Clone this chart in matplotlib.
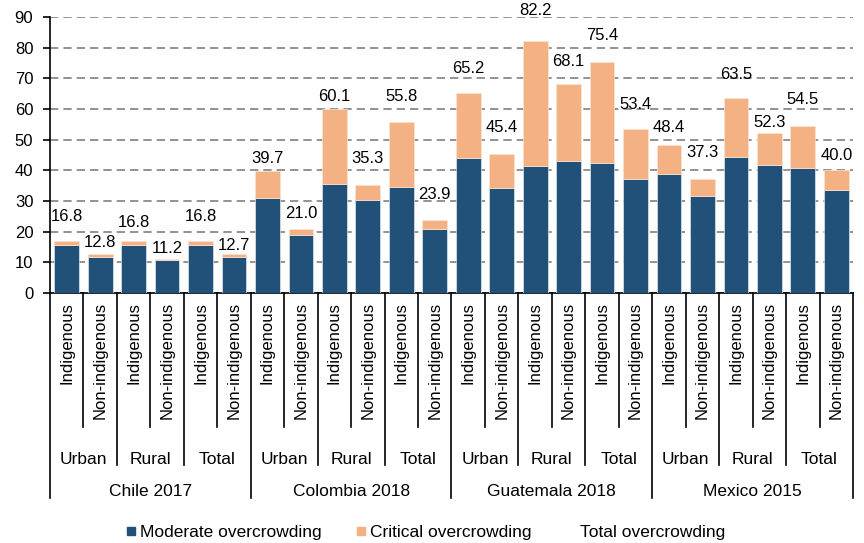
import matplotlib
matplotlib.use("Agg")
import matplotlib.pyplot as plt
from matplotlib.lines import Line2D
import matplotlib.transforms as mtransforms

plt.rcParams["font.family"] = ["Liberation Sans", "DejaVu Sans"]

countries = ["Chile 2017", "Colombia 2018", "Guatemala 2018", "Mexico 2015"]
areas = ["Urban", "Rural", "Total"]
groups = ["Indigenous", "Non-indigenous"]

total = [16.8, 12.8, 16.8, 11.2, 16.8, 12.7,
         39.7, 21.0, 60.1, 35.3, 55.8, 23.9,
         65.2, 45.4, 82.2, 68.1, 75.4, 53.4,
         48.4, 37.3, 63.5, 52.3, 54.5, 40.0]
moderate = [15.5, 11.9, 15.5, 10.7, 15.5, 11.8,
            31.0, 18.8, 35.7, 30.2, 34.6, 20.9,
            44.1, 34.3, 41.5, 42.9, 42.4, 37.3,
            38.7, 31.7, 44.3, 41.8, 40.9, 33.5]
critical = [t - m for t, m in zip(total, moderate)]

# label offsets above the bar top (points), as laid out in the original
label_off = [18, 8, 14, 7, 18, 6,
             9, 11, 9, 19, 18, 18,
             18, 19, 22, 16, 19, 18,
             12, 19, 17, 7, 19, 11]

c_mod = "#215078"
c_crit = "#F4B183"

fig = plt.figure(figsize=(8.64, 5.43), dpi=100)
H = 543
ax = fig.add_axes([50 / 864, 1 - 293 / H, (853 - 50) / 864, (293 - 17) / H])

x = list(range(len(total)))
ax.bar(x, moderate, width=0.74, color=c_mod, edgecolor="#dfe6ee", linewidth=0.5, zorder=3)
ax.bar(x, critical, bottom=moderate, width=0.74, color=c_crit, edgecolor="#fbe3d2",
       linewidth=0.5, zorder=3)

for i, t in enumerate(total):
    ax.annotate(f"{t:.1f}", (i, t), xytext=(0, label_off[i]), textcoords="offset points",
                ha="center", va="center", fontsize=12, zorder=4)

ax.set_xlim(-0.5, len(total) - 0.5)
ax.set_ylim(0, 90)
ax.set_yticks(range(0, 91, 10))
ax.tick_params(axis="y", labelsize=12, length=5, direction="out", width=1.2, pad=7)
ax.set_xticks([])
ax.yaxis.grid(True, linestyle=(0, (5, 3)), color="#808080", linewidth=1.2)
ax.set_axisbelow(True)
for s in ["top", "right"]:
    ax.spines[s].set_visible(False)
ax.spines["left"].set_linewidth(1.2)
ax.spines["bottom"].set_linewidth(1.2)

# multi-level category axis
ah = 293 - 17
def ay(ypix):
    return (293 - ypix) / ah

trans = mtransforms.blended_transform_factory(ax.transData, ax.transAxes)
n = len(total)
for b in range(n + 1):
    xb = b - 0.5
    if b % 6 == 0:
        y2 = 498
    elif b % 2 == 0:
        y2 = 465
    else:
        y2 = 427
    ax.add_line(Line2D([xb, xb], [0, ay(y2)], transform=trans, color="black",
                       linewidth=1.2, clip_on=False))

for i in range(n):
    ax.text(i, ay(302), groups[i % 2], transform=trans, rotation=90, ha="center",
            va="top", fontsize=12)
for k in range(n // 2):
    ax.text(2 * k + 0.5, ay(460), areas[k % 3], transform=trans, ha="center",
            va="center", fontsize=12.5)
for k, c in enumerate(countries):
    ax.text(6 * k + 2.5, ay(491), c, transform=trans, ha="center", va="center",
            fontsize=12.5)

handles = [
    Line2D([], [], marker="s", linestyle="none", color=c_mod, markersize=6),
    Line2D([], [], marker="s", linestyle="none", color=c_crit, markersize=6),
    Line2D([], [], linestyle="none"),
]
fig.legend(handles, ["Moderate overcrowding", "Critical overcrowding", "Total overcrowding"],
           loc="center", bbox_to_anchor=(0.493, 1 - 532 / H), ncol=3, frameon=False,
           fontsize=12.5, handlelength=0.5, handletextpad=0.3, columnspacing=2.0)

fig.savefig("out.png", dpi=100)
